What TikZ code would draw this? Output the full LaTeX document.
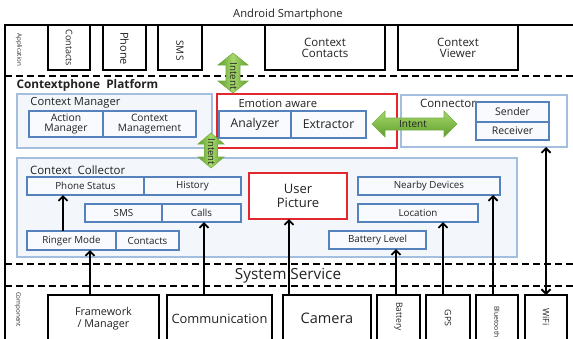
\documentclass[tikz,border=0pt]{standalone}
\usepackage{fontspec}
\setmainfont{Open Sans}
\usetikzlibrary{arrows.meta,calc}
\definecolor{panelblue}{HTML}{A3BEDF}
\definecolor{panelfill}{HTML}{F3F6FB}
\definecolor{boxblue}{HTML}{5582BC}
\definecolor{boxfill}{HTML}{F8FAFD}
\definecolor{redb}{HTML}{E2282E}
\definecolor{gLight}{HTML}{A6D86A}
\definecolor{gDark}{HTML}{5E9E2D}
\definecolor{gEdge}{HTML}{76AE45}
\definecolor{txt}{HTML}{222222}
\newcommand\fs[1]{\fontsize{#1}{#1}\selectfont}
\newcommand\mybox[7]{\node[#1,minimum width={(#4-#2)*1pt},minimum height={(#5-#3)*1pt}] (#6) at ({(#2+#4)/2},{(#3+#5)/2}) {#7};}
\tikzset{
  every node/.style={text=txt,inner sep=0pt,outer sep=0pt},
  appbox/.style={draw=black,line width=1.8pt},
  panel/.style={draw=panelblue,line width=1.6pt,fill=panelfill},
  ibox/.style={draw=boxblue,line width=1.5pt,fill=boxfill,align=center},
  redbox/.style={draw=redb,line width=1.8pt,fill=white,align=center},
  dashline/.style={line width=1.8pt,dash pattern=on 7pt off 4pt},
  conn/.style={line width=1.8pt,-{Straight Barb[length=4.5pt,width=9pt]}},
  bconn/.style={line width=1.8pt,{Straight Barb[length=4.5pt,width=9pt]}-{Straight Barb[length=4.5pt,width=9pt]}},
  garrow/.style={draw=gEdge,line width=0.6pt},
  lbl/.style={anchor=west},
}
\begin{document}
\begin{tikzpicture}[x=1pt,y=-1pt]
\useasboundingbox (0,0) rectangle (573,338);
% title and frame
\node[font=\fs{11.2}] (title) at (288,15) {Android Smartphone};
\draw[line width=1.8pt] (5,345) -- (5,25) -- (580,25);
% applications
\node[rotate=-90,font=\fs{6.2}] (applbl) at (19,50) {Application};
\mybox{appbox}{48}{25}{90}{70}{apcont}{}
\mybox{appbox}{103}{25}{146}{70}{apphone}{}
\mybox{appbox}{158}{25}{202}{70}{apsms}{}
\mybox{appbox,align=center,font=\fs{11.5}}{265}{25}{385}{70}{apcc}{Context\\[-0.5pt]Contacts}
\mybox{appbox,align=center,font=\fs{11.5}}{398}{25}{518}{70}{apcv}{Context\\[-0.5pt]Viewer}
\node[rotate=-90,font=\fs{9}] (apcontL) at (69,48) {Contacts};
\node[rotate=-90,font=\fs{11}] (apphoneL) at (124.5,48.5) {Phone};
\node[rotate=-90,font=\fs{10}] (apsmsL) at (180,50.5) {SMS};
% dashed lines
\draw[dashline] (5,76) -- (573,76);
\draw[dashline] (5,264) -- (573,264);
\draw[dashline] (5,286) -- (573,286);
\node[lbl,font=\bfseries\fs{11.8}] (platlbl) at (16.5,85) {Contextphone\ \ Platform};
% context manager
\mybox{panel}{17}{94}{212}{148}{cm}{}
\node[lbl,font=\fs{11.2}] (cmlbl) at (30.5,102.5) {Context Manager};
\mybox{ibox,font=\fs{10.4}}{29}{111}{103}{137}{am}{Action\\[0pt]Manager}
\mybox{ibox,font=\fs{10.2}}{103}{111}{196}{137}{cmg}{Context\\[0pt]Management}
% emotion aware
\mybox{redbox}{217}{94}{397}{148}{emo}{}
\node[lbl,font=\fs{11.2}] (emolbl) at (238.5,103) {Emotion aware};
\mybox{ibox,font=\fs{12.2}}{219}{111}{291}{138}{ana}{Analyzer}
\mybox{ibox,font=\fs{12.2}}{291}{111}{366}{138}{ext}{Extractor}
% connector
\mybox{panel,fill=white}{401}{95}{567}{147}{con}{}
\node[lbl,font=\fs{11.5}] (conlbl) at (420,103) {Connector};
\mybox{ibox,font=\fs{10.5}}{476}{102}{549}{122}{snd}{Sender}
\mybox{ibox,font=\fs{10.5}}{476}{122}{549}{140}{rcv}{Receiver}
% context collector
\mybox{panel}{17}{158}{517}{257}{cc}{}
\node[lbl,font=\fs{11.5}] (cclbl) at (30,170) {Context\ \ Collector};
\mybox{ibox,font=\fs{9.8}}{27}{177}{144}{195}{phs}{Phone Status}
\mybox{ibox,font=\fs{9.8}}{144}{177}{241}{195}{his}{History}
\mybox{ibox,font=\fs{9.8}}{85}{204}{162}{222}{csms}{SMS}
\mybox{ibox,font=\fs{9.8}}{162}{204}{241}{222}{calls}{Calls}
\mybox{ibox,font=\fs{9.8}}{27}{231}{116}{250}{ring}{Ringer Mode}
\mybox{ibox,font=\fs{9.8}}{116}{231}{179}{250}{ccont}{Contacts}
\mybox{redbox,font=\fs{13}}{249}{173}{347}{219}{upic}{User\\[1pt]Picture}
\mybox{ibox,font=\fs{9.8}}{358}{177}{500}{195}{nearby}{Nearby Devices}
\mybox{ibox,font=\fs{9.8}}{358}{204}{478}{222}{loc}{Location}
\mybox{ibox,font=\fs{9.8}}{329}{231}{426}{249}{batl}{Battery Level}
% system service
\node[font=\fs{15.3}] (syslbl) at (288,275.5) {System Service};
% components
\node[rotate=-90,anchor=west,font=\fs{6.3}] (complbl) at (18,292) {Component};
\mybox{appbox,align=center,font=\fs{10.8}}{48}{295}{159}{342}{fw}{Framework\\[1pt]/ Manager}
\mybox{appbox,font=\fs{12.9}}{167}{295}{272}{342}{comm}{Communication}
\mybox{appbox,font=\fs{14.5}}{283}{295}{371}{342}{cam}{Camera}
\mybox{appbox}{377}{295}{420}{342}{bat}{}
\mybox{appbox}{426}{295}{470}{342}{gps}{}
\mybox{appbox}{476}{295}{518}{342}{bt}{}
\mybox{appbox}{525}{295}{567}{342}{wifi}{}
\node[rotate=-90,font=\fs{8.5}] (batL) at (398.5,316.5) {Battery};
\node[rotate=-90,font=\fs{8.8}] (gpsL) at (448,318) {GPS};
\node[rotate=-90,font=\fs{6.8}] (btL) at (497,322) {Bluetooth};
\node[rotate=-90,font=\fs{8.8}] (wifiL) at (546,317) {WiFi};
% connectors
\draw[conn] ([xshift=-8.5pt]ring.north) -- ([xshift=-8.5pt]ring.north |- phs.south);
\draw[conn] ([xshift=-13.5pt]fw.north) -- ([xshift=-13.5pt]fw.north |- ring.south);
\draw[conn] ([xshift=-15.5pt]comm.north) -- ([xshift=-15.5pt]comm.north |- calls.south);
\draw[conn] ([xshift=-9pt]upic.south |- cam.north) -- ([xshift=-9pt]upic.south);
\draw[conn] ([xshift=-2.5pt]bat.north) -- ([xshift=-2.5pt]bat.north |- batl.south);
\draw[conn] ([xshift=-5pt]gps.north) -- ([xshift=-5pt]gps.north |- loc.south);
\draw[conn] ([xshift=-4pt]bt.north) -- ([xshift=-4pt]bt.north |- nearby.south);
\draw[bconn] (wifi.north) -- (wifi.north |- con.south);
% green intent arrows
\shade[garrow,left color=gDark,right color=gDark,middle color=gLight]
  (233,53) -- (248,65) -- (240,65) -- (240,81) -- (248,81) -- (233,93) -- (218,81) -- (226,81) -- (226,65) -- (218,65) -- cycle;
\node[rotate=-90,font=\fs{9.8}] (int1) at (233.5,76) {Intent};
\shade[garrow,left color=gDark,right color=gDark,middle color=gLight]
  (211,133) -- (224,144) -- (217.5,144) -- (217.5,157) -- (224,157) -- (211,168) -- (198,157) -- (204.5,157) -- (204.5,144) -- (198,144) -- cycle;
\node[rotate=-90,font=\fs{9.5}] (int2) at (211.5,152) {Intent};
\shade[garrow,top color=gLight,bottom color=gDark]
  (372,124) -- (385,111) -- (385,118) -- (444,118) -- (444,111) -- (457,124) -- (444,137) -- (444,130) -- (385,130) -- (385,137) -- cycle;
\node[font=\fs{10}] (int3) at (413,123.5) {Intent};
\end{tikzpicture}
\end{document}
